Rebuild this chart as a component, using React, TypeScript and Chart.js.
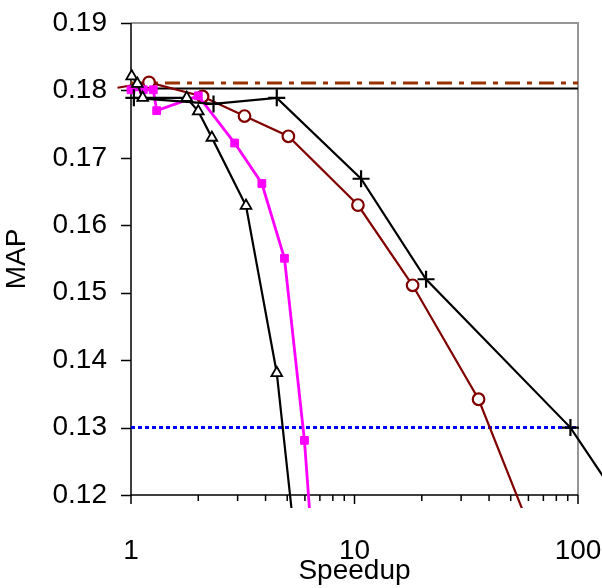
import React, { useEffect, useRef } from "react";
import { Chart, registerables } from "chart.js";
Chart.register(...registerables);

// ---- data ----
const triSpeedup = [1.007, 1.067, 1.128, 1.776, 2.0, 2.3, 3.27, 4.49, 5.55];
const triMap = [0.1821, 0.181, 0.1789, 0.1789, 0.1769, 0.173, 0.1629, 0.1381, 0.11];

const plusSpeedup = [1.03, 2.34, 4.49, 10.7, 20.9, 92.5, 190];
const plusMap = [0.1789, 0.178, 0.1789, 0.1669, 0.152, 0.13, 0.1145];

const sqSpeedup = [1.0, 1.135, 1.258, 1.303, 2.0, 2.91, 3.85, 4.86, 5.97, 6.55];
const sqMap = [0.1801, 0.1801, 0.1801, 0.177, 0.1792, 0.1722, 0.1662, 0.1551, 0.1281, 0.11];

const circSpeedup = [0.87, 1.204, 2.09, 3.22, 5.06, 10.36, 18.2, 35.9, 70];
const circMap = [0.1804, 0.1812, 0.1791, 0.1762, 0.1732, 0.163, 0.1511, 0.1342, 0.11];

const refSpeedup = [1, 100];
const baselineMap = 0.1803;
const dashDotMap = 0.1811;
const dottedMap = 0.13;

const xMin = 1;
const xMax = 100;
const xTickLabels = [1, 10, 100];
const yMin = 0.12;
const yMax = 0.19;
const yStep = 0.01;

const FONT = "'Liberation Sans', Arial, sans-serif";

const pts = (xs: number[], ys: number[]) => xs.map((x, i) => ({ x, y: ys[i] }));
const radius = (r: number) => (c: any) => {
  const p = c.raw;
  if (!p) return r;
  return p.x < xMin || p.x > xMax || p.y < yMin || p.y > yMax ? 0 : r;
};

const decorPlugin = {
  id: "decor",
  beforeDatasetsDraw(chart: any) {
    const { ctx, chartArea } = chart;
    const { left, right, top, bottom } = chartArea;
    const xs = chart.scales.x;
    const ys = chart.scales.y;
    ctx.save();
    // grey frame top/right
    ctx.strokeStyle = "#969696";
    ctx.lineWidth = 2;
    ctx.beginPath();
    ctx.moveTo(left, top);
    ctx.lineTo(right, top);
    ctx.lineTo(right, bottom);
    ctx.stroke();
    // black axes
    ctx.strokeStyle = "#000";
    ctx.lineWidth = 1.5;
    ctx.beginPath();
    ctx.moveTo(left, top);
    ctx.lineTo(left, bottom);
    ctx.lineTo(right, bottom);
    ctx.stroke();
    // y ticks
    ctx.beginPath();
    for (let v = yMin; v <= yMax + 1e-9; v += yStep) {
      const y = Math.round(ys.getPixelForValue(v)) + 0.5;
      ctx.moveTo(left - 10, y);
      ctx.lineTo(left, y);
    }
    ctx.stroke();
    // x ticks (log)
    ctx.beginPath();
    for (let d = xMin; d <= xMax; d *= 10) {
      for (let k = 1; k <= 9; k++) {
        const v = k * d;
        if (v > xMax + 1e-9) break;
        const x = xs.getPixelForValue(v);
        const len = k === 1 ? 9 : 6;
        ctx.moveTo(x, bottom);
        ctx.lineTo(x, bottom + len);
      }
    }
    ctx.stroke();
    ctx.restore();
  },
};

export default function App() {
  const ref = useRef<HTMLCanvasElement | null>(null);
  useEffect(() => {
    if (!ref.current) return;
    const clip = { left: 14, top: 10, right: 40, bottom: 13 };
    const chart = new Chart(ref.current, {
      type: "line",
      data: {
        datasets: [
          {
            label: "tri",
            data: pts(triSpeedup, triMap),
            borderColor: "#000",
            borderWidth: 2.2,
            pointStyle: "triangle",
            pointRadius: radius(6.2),
            pointBackgroundColor: "#fff",
            pointBorderColor: "#000",
            pointBorderWidth: 1.8,
            clip,
          } as any,
          {
            label: "plus",
            data: pts(plusSpeedup, plusMap),
            borderColor: "#000",
            borderWidth: 2.2,
            pointStyle: "cross",
            pointRadius: radius(8.5),
            pointBorderColor: "#000",
            pointBorderWidth: 2.2,
            clip,
          },
          {
            label: "sq",
            data: pts(sqSpeedup, sqMap),
            borderColor: "#FF00FF",
            borderWidth: 2.8,
            pointStyle: "rect",
            pointRadius: radius(5.5),
            pointBackgroundColor: "#FF00FF",
            pointBorderColor: "#FF00FF",
            pointBorderWidth: 1,
            clip,
          },
          {
            label: "circ",
            data: pts(circSpeedup, circMap),
            borderColor: "#800000",
            borderWidth: 2.2,
            pointStyle: "circle",
            pointRadius: radius(5.8),
            pointBackgroundColor: "#fff",
            pointBorderColor: "#800000",
            pointBorderWidth: 2.2,
            clip,
          },
          {
            label: "baseline",
            data: pts(refSpeedup, refSpeedup.map(() => baselineMap)),
            borderColor: "#000",
            borderWidth: 2,
            pointRadius: 0,
          },
          {
            label: "dashdot",
            data: pts(refSpeedup, refSpeedup.map(() => dashDotMap)),
            borderColor: "#993300",
            borderWidth: 3.2,
            borderDash: [15, 7, 5, 7],
            pointRadius: 0,
          },
          {
            label: "dotted",
            data: pts(refSpeedup, refSpeedup.map(() => dottedMap)),
            borderColor: "#0000FF",
            borderWidth: 3,
            borderDash: [4, 3],
            pointRadius: 0,
          },
        ],
      },
      options: {
        responsive: false,
        animation: false,
        events: [],
        layout: { padding: { left: 0, top: 23, right: 24, bottom: 0 } },
        elements: { line: { tension: 0, borderCapStyle: "butt" } },
        plugins: { legend: { display: false }, tooltip: { enabled: false } },
        scales: {
          x: {
            type: "logarithmic",
            min: xMin,
            max: xMax,
            grid: { display: false, drawTicks: false },
            border: { display: false },
            ticks: {
              autoSkip: false,
              maxRotation: 0,
              minRotation: 0,
              padding: 39,
              color: "#000",
              font: { family: FONT, size: 28 },
              callback: (v: any) => (xTickLabels.includes(Number(v)) ? String(v) : ""),
            },
            title: {
              display: true,
              text: "Speedup",
              color: "#000",
              font: { family: FONT, size: 28 },
              padding: { top: 0, bottom: 0 },
            },
            afterFit: (s: any) => {
              s.height = 93;
              s.paddingLeft = 0;
              s.paddingRight = 0;
            },
          },
          y: {
            type: "linear",
            min: yMin,
            max: yMax,
            grid: { display: false, drawTicks: false },
            border: { display: false },
            ticks: {
              stepSize: yStep,
              padding: 24,
              color: "#000",
              font: { family: FONT, size: 28 },
              callback: (v: any) => Number(v).toFixed(2),
            },
            title: {
              display: true,
              text: "MAP",
              color: "#000",
              font: { family: FONT, size: 28 },
              padding: { top: 0, bottom: 0 },
            },
            afterFit: (s: any) => {
              s.width = 131;
              s.paddingTop = 0;
              s.paddingBottom = 0;
            },
          },
        },
      },
      plugins: [decorPlugin],
    });
    return () => chart.destroy();
  }, []);
  return (
    <div style={{ position: "absolute", left: 0, top: 0, width: 602, height: 588, background: "#fff" }}>
      <canvas ref={ref} width={602} height={588} />
    </div>
  );
}
